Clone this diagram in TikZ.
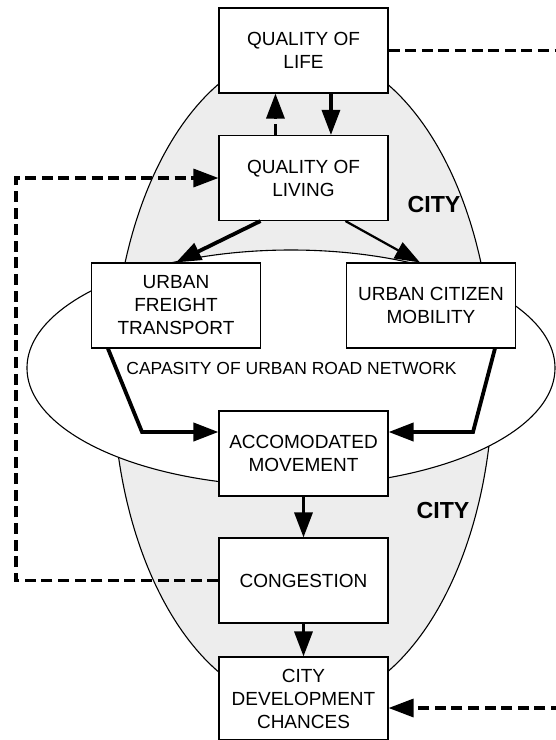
\documentclass[tikz,border=0pt]{standalone}
\usepackage{fontspec}
\setmainfont{Liberation Sans}
\usetikzlibrary{arrows.meta,calc}
\begin{document}
\begin{tikzpicture}[x=0.5pt,y=-0.5pt,
  box/.style={draw,line width=0.55pt,fill=white,minimum width=84.5pt,
    minimum height=42.5pt,align=center,inner sep=0pt,
    font=\fontsize{9.5}{11.5}\selectfont},
  tip/.style={-{Triangle[length=12.5pt,width=9pt]}},
  flow/.style={tip,line width=1.6pt},
  heavyflow/.style={tip,line width=1.9pt},
  lightflow/.style={tip,line width=1.1pt},
  dashline/.style={line width=1.6pt,dash pattern=on 5.5pt off 2.8pt},
  fb/.style={tip,dashline},
  citylabel/.style={font=\bfseries\fontsize{11.6}{13}\selectfont},
  region/.style={line width=0.55pt}]
\useasboundingbox (0,0) rectangle (556,740);

% city area and road network capacity
\draw[region,fill=black!7] (303,378) ellipse [x radius=190, y radius=328];
\draw[region,fill=white] (291,368) ellipse [x radius=264, y radius=118];

% boxes
\node[box] (qol)  at (303.5,50.5)  {QUALITY OF\\LIFE};
\node[box] (qliv) at (303.5,178)   {QUALITY OF\\LIVING};
\node[box] (uft)  at (176,305.5)   {URBAN\\FREIGHT\\TRANSPORT};
\node[box] (ucm)  at (431,305.5)   {URBAN CITIZEN\\MOBILITY};
\node[box] (acc)  at (303.5,453.5) {ACCOMODATED\\MOVEMENT};
\node[box] (cong) at (303.5,580.5) {CONGESTION};
\node[box,minimum height=41.5pt] (cdc) at (303.5,698.5) {CITY\\DEVELOPMENT\\CHANCES};

% labels
\node[citylabel] (city1) at (434,205) {CITY};
\node[citylabel] (city2) at (443,511) {CITY};
\node[font=\fontsize{8.75}{10}\selectfont] (cap) at (291.5,368) {CAPASITY OF URBAN ROAD NETWORK};

% main flows
\draw[flow] ($(qol.south west)+(112.5,0)$) -- ($(qliv.north west)+(112.5,0)$);
\draw[fb] ($(qliv.north west)+(57,0)$) -- ($(qol.south west)+(57,0)$);
\draw[heavyflow] ($(qliv.south west)+(42,0)$) -- (uft.north);
\draw[lightflow] ($(qliv.south west)+(127,0)$) -- ($(ucm.north west)+(74,0)$);
\coordinate (ufbend) at (142,432);
\coordinate (ucbend) at (473,432);
\draw[heavyflow] ($(uft.south west)+(17,0)$) -- (ufbend) -- (acc.west |- ufbend);
\draw[heavyflow] ($(ucm.south west)+(149,0)$) -- (ucbend) -- (acc.east |- ucbend);
\draw[flow] (acc.south) -- (cong.north);
\draw[flow] (cong.south) -- (cdc.north);

% feedback loops
\coordinate (loopx) at (16,400);
\draw[fb] (cong.west) -| (loopx) |- (qliv.west);
\coordinate (rtop) at (562,51);
\coordinate (rbot) at (562,708);
\draw[dashline] (qol.east) -- (qol.east -| rtop);
\draw[fb] (rbot) -- (cdc.east |- rbot);
\end{tikzpicture}
\end{document}
